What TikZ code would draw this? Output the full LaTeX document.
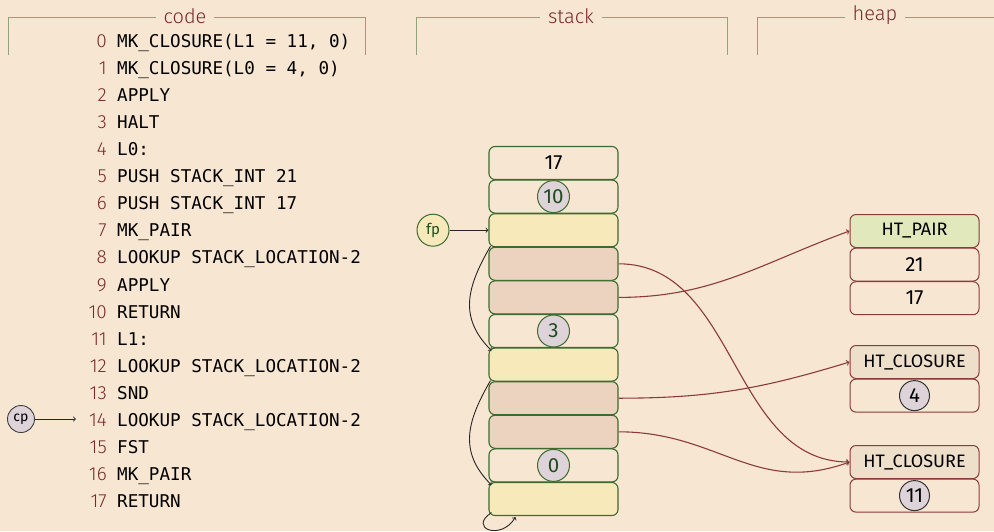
\documentclass[tikz,border=0pt]{standalone}
\usepackage{fontspec}
\setmainfont{Fira Sans}[UprightFont=* Light]
\newfontfamily\firareg{Fira Sans}
\setmonofont{DejaVu Sans Mono}
\usetikzlibrary{calc}
\definecolor{bg}{HTML}{F7E6D2}
\definecolor{frame}{HTML}{8FA47C}
\definecolor{titlered}{HTML}{7B2A2A}
\definecolor{sgreen}{HTML}{3B6B2E}
\definecolor{sgreentext}{HTML}{1F4D1F}
\definecolor{yel}{HTML}{F8E9BA}
\definecolor{pinkf}{HTML}{EBD3BF}
\definecolor{lav}{HTML}{DDD3D9}
\definecolor{hred}{HTML}{8C3B3B}
\definecolor{pairf}{HTML}{E0E8BC}
\definecolor{closf}{HTML}{EEDFCA}
\begin{document}
\begin{tikzpicture}[x=1pt,y=-1pt,
  title/.style={font=\fontsize{20}{22}\selectfont, text=titlered, fill=bg, inner xsep=8pt, inner ysep=2pt},
  frameline/.style={draw=frame, line width=0.9pt},
  num/.style={font=\fontsize{19}{21}\selectfont, text=titlered, anchor=base east, inner sep=0pt},
  code/.style={font=\ttfamily\fontsize{17.6}{20}\selectfont, anchor=base west, inner sep=0pt},
  stackbox/.style={draw=sgreen, line width=1.1pt, rounded corners=6pt, minimum width=129pt, minimum height=33pt, inner sep=0pt, font=\firareg\fontsize{20.5}{23}\selectfont},
  heapbox/.style={draw=hred, line width=1pt, rounded corners=6pt, minimum width=129pt, minimum height=33pt, inner sep=0pt, font=\firareg\fontsize{20.5}{23}\selectfont},
  heaplabel/.style={font=\firareg\fontsize{18}{20}\selectfont},
  scirc/.style={circle, draw=sgreen, line width=1pt, fill=lav, text=sgreentext, minimum size=32pt, inner sep=0pt, font=\firareg\fontsize{20.5}{23}\selectfont},
  hcirc/.style={circle, draw=black!80, line width=1pt, fill=lav, minimum size=30pt, inner sep=0pt, font=\firareg\fontsize{20.5}{23}\selectfont},
  link/.style={->, draw=black!85, line width=0.9pt},
  hptr/.style={->, draw=hred, line width=1.1pt},
]
\fill[bg] (0,0) rectangle (994,531);
\useasboundingbox (0,0) rectangle (994,531);

% frames
\draw[frameline] (8,55) -- (8,17) -- (365,17) -- (365,55);
\node[title] (tcode) at (185,16) {code};
\draw[frameline] (416,55) -- (416,17) -- (727,17) -- (727,55);
\node[title] (tstack) at (571,16) {stack};
\draw[frameline] (757,55) -- (757,17) -- (994,17);
\node[title] (theap) at (875,15) {heap};

% code listing
\foreach \i/\t in {
 0/{MK\_CLOSURE(L1 = 11, 0)},
 1/{MK\_CLOSURE(L0 = 4, 0)},
 2/{APPLY},
 3/{HALT},
 4/{L0:},
 5/{PUSH STACK\_INT 21},
 6/{PUSH STACK\_INT 17},
 7/{MK\_PAIR},
 8/{LOOKUP STACK\_LOCATION-2},
 9/{APPLY},
 10/{RETURN},
 11/{L1:},
 12/{LOOKUP STACK\_LOCATION-2},
 13/{SND},
 14/{LOOKUP STACK\_LOCATION-2},
 15/{FST},
 16/{MK\_PAIR},
 17/{RETURN}}{
  \node[num] (n\i) at (107, 47.5+27.06*\i) {\i};
  \node[code] (c\i) at (117, 47.5+27.06*\i) {\t};
}

% cp pointer
\node[circle, draw=black!75, line width=0.9pt, fill=lav, minimum size=27pt, inner sep=0pt, font=\firareg\fontsize{14}{15}\selectfont] (cp) at (21,419) {cp};
\draw[link] (cp.east) -- ([xshift=-13pt]cp.east -| n14.west);

% stack
\node[stackbox] (s1) at (553.5,163) {17};
\node[stackbox] (s2) at (553.5,196.6) {};
\node[stackbox, fill=yel] (s3) at (553.5,230.2) {};
\node[stackbox, fill=pinkf] (s4) at (553.5,263.8) {};
\node[stackbox, fill=pinkf] (s5) at (553.5,297.4) {};
\node[stackbox] (s6) at (553.5,331) {};
\node[stackbox, fill=yel] (s7) at (553.5,364.6) {};
\node[stackbox, fill=pinkf] (s8) at (553.5,398.2) {};
\node[stackbox, fill=pinkf] (s9) at (553.5,431.8) {};
\node[stackbox] (s10) at (553.5,465.4) {};
\node[stackbox, fill=yel] (s11) at (553.5,499) {};
\node[scirc] (c10) at (s2) {10};
\node[scirc] (c3) at (s6) {3};
\node[scirc] (c0) at (s10) {0};

% fp pointer
\node[circle, draw=sgreen, line width=1pt, fill=yel, text=sgreentext, minimum size=32pt, inner sep=0pt, font=\firareg\fontsize{15}{16}\selectfont] (fp) at (433,230.2) {fp};
\draw[link] (fp) -- (s3.west);

% frame links (explicit pt offsets and angles are page oriented)
\draw[link] ([shift={(2pt,1pt)}]s3.south west) to[out=-120, in=135, looseness=1.15] ([shift={(3pt,-3pt)}]s7.north west);
\draw[link] ([shift={(2pt,1pt)}]s7.south west) to[out=-120, in=135, looseness=1.15] ([shift={(3pt,-3pt)}]s11.north west);
\draw[link] ([shift={(3pt,3.5pt)}]s11.south west) .. controls +(-24pt,-16pt) and +(-14pt,-24pt) .. ([shift={(27pt,-1pt)}]s11.south west);

% heap
\node[heapbox, fill=pairf, heaplabel] (hp) at (914.5,231) {HT\_PAIR};
\node[heapbox] (h21) at (914.5,264.6) {21};
\node[heapbox] (h17) at (914.5,298.2) {17};
\node[heapbox, fill=closf, heaplabel] (hc1) at (914.5,362) {HT\_CLOSURE};
\node[heapbox] (h4b) at (914.5,395.6) {};
\node[hcirc] (h4) at (h4b) {4};
\node[heapbox, fill=closf, heaplabel] (hc2) at (914.5,462) {HT\_CLOSURE};
\node[heapbox] (h11b) at (914.5,495.6) {};
\node[hcirc] (h11) at (h11b) {11};

% heap pointers
\draw[hptr] (s4.east) to[out=0, in=180] (hc2.west);
\draw[hptr] (s5.east) to[out=0, in=200] (hp.west);
\draw[hptr] (s8.east) to[out=0, in=197] (hc1.west);
\draw[hptr] (s9.east) to[out=0, in=200, looseness=1.1] (hc2.west);
\end{tikzpicture}
\end{document}
